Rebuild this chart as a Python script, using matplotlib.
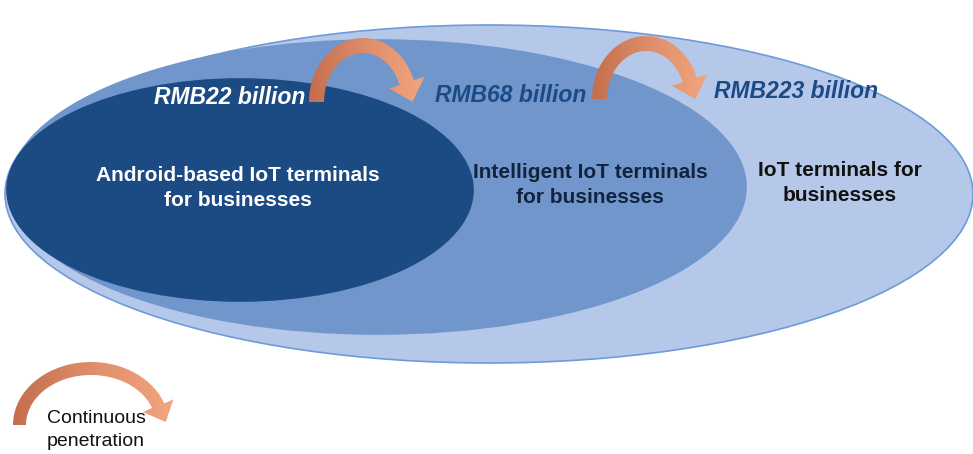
import numpy as np
from matplotlib import pyplot as plt
from matplotlib.patches import Ellipse, Polygon
from matplotlib.colors import LinearSegmentedColormap

####################################
### The data shown in the diagram
####################################

segments = ["IoT terminals for\nbusinesses",
            "Intelligent IoT terminals\nfor businesses",
            "Android-based IoT terminals\nfor businesses"]
market_size = [223, 68, 22]          ## RMB billion, outer -> inner
legend_text = "Continuous\npenetration"

####################################
### Layout and style (pixel coordinates, y down)
####################################

ellipse_geom = [((489, 194), 968, 338),
                ((378, 187), 736, 294),
                ((240, 190), 466, 222)]
ellipse_col = ["#b5c8ea", "#7096cb", "#1c4b84"]
label_pos = [(796, 92), (511, 95), (230, 97)]
label_col = ["#1c4a86", "#1c4a86", "white"]
body_pos = [(840, 183), (590, 185), (238, 188)]
body_col = ["#111111", "#14233d", "white"]

plt.rcdefaults()
plt.rcParams['font.family'] = ['Liberation Sans', 'DejaVu Sans']

fig = plt.figure(figsize=(9.73, 4.54), dpi=100)
ax = fig.add_axes([0, 0, 1, 1])
ax.set_xlim(0, 973)
ax.set_ylim(454, 0)
ax.axis("off")

######################
### Nested ellipses
######################

for i, (geom, col) in enumerate(zip(ellipse_geom, ellipse_col)):
    (cx, cy), w, h = geom
    e = Ellipse((cx, cy), w, h, facecolor=col,
                edgecolor="#6f9ad8" if i == 0 else col, lw=1.2, zorder=1 + i)
    ax.add_patch(e)

######################
### Curved arrows with a gradient
######################

arrow_cmap = LinearSegmentedColormap.from_list("arr", ["#c46e4e", "#e0906c", "#f4a882"])

def curved_arrow(cx, cy, rx, ry, t, a_end=20, head_w=11, head_l=20):
    ang = np.radians(np.linspace(180, a_end, 60))
    outer = np.c_[cx + rx * np.cos(ang), cy - ry * np.sin(ang)]
    inner = np.c_[cx + (rx - t) * np.cos(ang[::-1]), cy - (ry - t) * np.sin(ang[::-1])]
    a = np.radians(a_end)
    rm, rym = rx - t / 2, ry - t / 2
    mid = np.array([cx + rm * np.cos(a), cy - rym * np.sin(a)])
    d = np.array([rm * np.sin(a), rym * np.cos(a)])
    d /= np.linalg.norm(d)
    n = np.array([d[1], -d[0]])          ## points outward
    p_out = outer[-1] + n * head_w
    p_in = inner[0] - n * head_w
    tip = mid + d * head_l
    pts = np.vstack([outer, p_out, tip, p_in, inner])
    poly = Polygon(pts, closed=True, facecolor="none", edgecolor="none", zorder=6)
    ax.add_patch(poly)
    grad = np.linspace(0, 1, 100).reshape(1, -1)
    im = ax.imshow(grad, cmap=arrow_cmap,
                   extent=(cx - rx, cx + rx + head_w + 5, cy + 5, cy - ry - 5),
                   aspect="auto", zorder=6)
    im.set_clip_path(poly)

curved_arrow(363, 102, 54, 64, 15)
curved_arrow(646, 99, 54, 63, 15)
curved_arrow(91, 425, 78, 63, 13, head_w=10, head_l=18)

######################
### Texts
######################

for v, pos, col in zip(market_size, label_pos, label_col):
    ax.text(pos[0], pos[1], f"RMB{v} billion", color=col, fontsize=16.5,
            fontweight="bold", fontstyle="italic", ha="center", va="center", zorder=8)

for s, pos, col in zip(segments, body_pos, body_col):
    ax.text(pos[0], pos[1], s, color=col, fontsize=15, fontweight="bold",
            ha="center", va="center", linespacing=1.35, zorder=8)

ax.text(96, 430, legend_text, color="#111111", fontsize=14, ha="center",
        va="center", linespacing=1.4, zorder=8)

ax.set_xlim(0, 973)
ax.set_ylim(454, 0)

plt.savefig("out.png", dpi=100)
